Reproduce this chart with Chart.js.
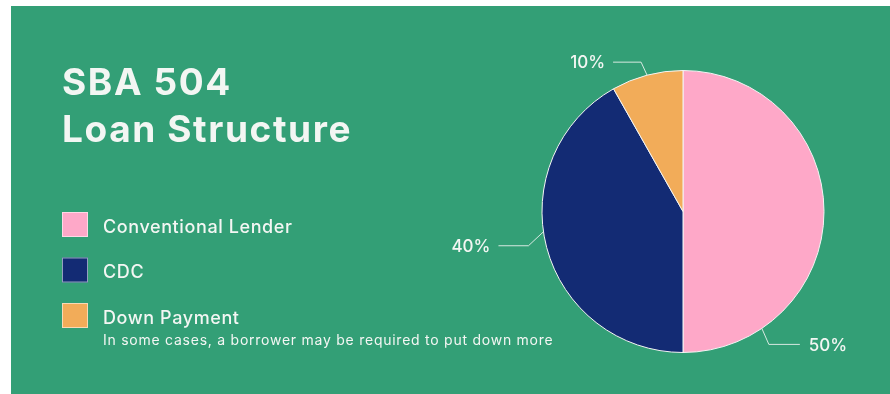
<!DOCTYPE html>
<html>
<head>
<meta charset="utf-8">
<script src="https://cdn.jsdelivr.net/npm/chart.js@4.4.1/dist/chart.umd.min.js"></script>
<style>
  html, body { margin: 0; padding: 0; background: #fff; }
  #wrap { width: 890px; height: 394px; }
</style>
</head>
<body>
<div id="wrap"><canvas id="pie" width="890" height="394"></canvas></div>
<script>
// --- data ---
const titleLines = ['SBA 504', 'Loan Structure'];
const categories = ['Conventional Lender', 'CDC', 'Down Payment'];
const categoryNotes = ['', '', 'In some cases, a borrower may be required to put down more'];
// slice sizes as drawn (degrees of arc turned into shares)
const sliceValues = [50, 41.8, 8.2];
// printed percentage labels
const sliceLabels = ['50%', '40%', '10%'];
const sliceColors = ['#fea8c8', '#132b74', '#f2ac59'];

const GREEN = '#339f76';
const TEXT = '#f3f6f3';

// where the elbow leader leaves each slice (offset from slice middle, degrees)
// and which way it bends
const leaders = [
  { shift: 56, dx: 7, dy: 16, len: 31, side: 'right' },
  { shift: 6.5, dx: -15, dy: 14, len: 30, side: 'left' },
  { shift: 0, dx: -6, dy: -13, len: 28, side: 'left' },
];

const backdrop = {
  id: 'backdrop',
  beforeDraw(chart) {
    const ctx = chart.ctx;
    ctx.save();
    ctx.fillStyle = '#ffffff';
    ctx.fillRect(0, 0, chart.width, chart.height);
    ctx.fillStyle = GREEN;
    ctx.fillRect(11, 6, chart.width - 11, chart.height - 6);
    ctx.restore();
  },
};

const sideText = {
  id: 'sideText',
  afterDraw(chart) {
    const ctx = chart.ctx;
    ctx.save();
    ctx.fillStyle = TEXT;
    ctx.textBaseline = 'alphabetic';
    ctx.textAlign = 'left';

    // title
    ctx.font = '700 37px Inter, "Noto Sans", sans-serif';
    ctx.letterSpacing = '1.6px';
    titleLines.forEach((t, i) => ctx.fillText(t, 62, 95 + i * 47));

    // legend
    const ds = chart.data.datasets[0];
    categories.forEach((c, i) => {
      const y = 212 + i * 45.5;
      ctx.fillStyle = ds.backgroundColor[i];
      ctx.fillRect(62, y, 26, 25);
      ctx.strokeStyle = 'rgba(255,255,255,0.55)';
      ctx.lineWidth = 1;
      ctx.strokeRect(62.5, y + 0.5, 25, 24);
      ctx.fillStyle = TEXT;
      ctx.font = '500 18px Inter, "Noto Sans", sans-serif';
      ctx.letterSpacing = '0.6px';
      ctx.fillText(c, 103, y + 20.5);
      if (categoryNotes[i]) {
        ctx.font = '400 14px Inter, "Noto Sans", sans-serif';
        ctx.letterSpacing = '0.75px';
        ctx.fillText(categoryNotes[i], 103, y + 42);
      }
    });
    ctx.restore();
  },
};

const leaderLabels = {
  id: 'leaderLabels',
  afterDatasetsDraw(chart) {
    const ctx = chart.ctx;
    const meta = chart.getDatasetMeta(0);
    ctx.save();
    ctx.strokeStyle = 'rgba(243,246,243,0.85)';
    ctx.fillStyle = TEXT;
    ctx.lineWidth = 1;
    ctx.font = '500 17px Inter, "Noto Sans", sans-serif';
    ctx.textBaseline = 'middle';
    meta.data.forEach((arc, i) => {
      const L = leaders[i];
      const p = arc.getProps(['x', 'y', 'startAngle', 'endAngle', 'outerRadius'], true);
      const a = (p.startAngle + p.endAngle) / 2 + L.shift * Math.PI / 180;
      const sx = p.x + Math.cos(a) * p.outerRadius;
      const sy = p.y + Math.sin(a) * p.outerRadius;
      const ex = sx + L.dx;
      const ey = sy + L.dy;
      const hx = L.side === 'right' ? ex + L.len : ex - L.len;
      ctx.beginPath();
      ctx.moveTo(sx, sy);
      ctx.lineTo(ex, ey);
      ctx.lineTo(hx, ey);
      ctx.stroke();
      ctx.textAlign = L.side === 'right' ? 'left' : 'right';
      ctx.fillText(sliceLabels[i], L.side === 'right' ? hx + 9 : hx - 8, ey + 1);
    });
    ctx.restore();
  },
};

new Chart(document.getElementById('pie').getContext('2d'), {
  type: 'pie',
  data: {
    labels: categories,
    datasets: [{
      data: sliceValues,
      backgroundColor: sliceColors,
      borderColor: '#f4f4f4',
      borderWidth: 1,
    }],
  },
  options: {
    responsive: false,
    animation: false,
    layout: { padding: { left: 541, right: 65, top: 70, bottom: 41 } },
    plugins: {
      legend: { display: false },
      tooltip: { enabled: false },
      title: { display: false },
    },
  },
  plugins: [backdrop, sideText, leaderLabels],
});
</script>
</body>
</html>
